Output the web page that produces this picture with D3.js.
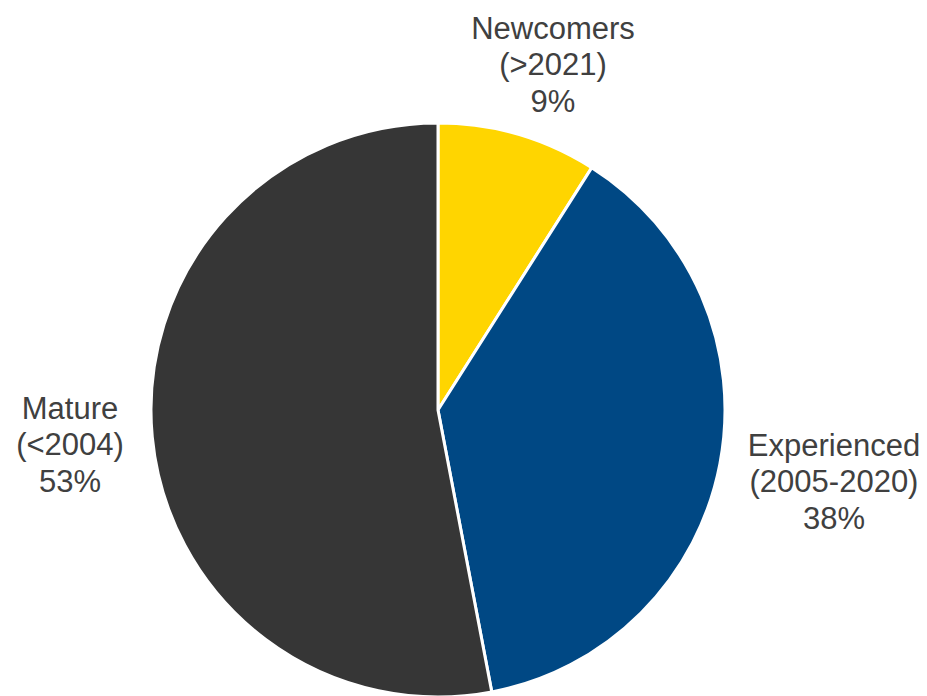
<!DOCTYPE html>
<html>
<head>
<meta charset="utf-8">
<script src="https://cdn.jsdelivr.net/npm/d3@7"></script>
<style>
  html, body { margin: 0; padding: 0; background: #fff; }
  svg { display: block; }
</style>
</head>
<body>
<svg id="chart" width="927" height="696"></svg>
<script>
// Share of members by joining period
const categories = ["Newcomers", "Experienced", "Mature"];
const periods = ["(>2021)", "(2005-2020)", "(<2004)"];
const shares = [9, 38, 53];
const colors = ["#FFD500", "#004884", "#363636"];

const width = 927, height = 696;
const cx = 438, cy = 410, radius = 287;

const svg = d3.select("#chart");
const g = svg.append("g").attr("transform", `translate(${cx},${cy})`);

const pie = d3.pie().sort(null).value(d => d.value);
const arc = d3.arc().innerRadius(0).outerRadius(radius);

const data = categories.map((c, i) => ({ name: c, period: periods[i], value: shares[i], color: colors[i] }));
const arcs = pie(data);

g.selectAll("path")
  .data(arcs)
  .join("path")
  .attr("d", arc)
  .attr("fill", d => d.data.color)
  .attr("stroke", "#fff")
  .attr("stroke-width", 3)
  .attr("stroke-linejoin", "miter");

// Label anchors placed outside each slice
const labelPos = [
  { x: 553, y: 28 },
  { x: 834, y: 445 },
  { x: 70, y: 408 }
];

const lineH = 36.5;
const labels = svg.selectAll("text.lbl")
  .data(arcs)
  .join("text")
  .attr("class", "lbl")
  .attr("text-anchor", "middle")
  .attr("font-family", "'Liberation Sans', Arial, sans-serif")
  .attr("font-size", 31)
  .attr("fill", "#404040");

labels.each(function(d, i) {
  const t = d3.select(this);
  const p = labelPos[i];
  const lines = [d.data.name, d.data.period, d.data.value + "%"];
  lines.forEach((s, j) => {
    t.append("tspan")
      .attr("x", p.x)
      .attr("y", p.y + j * lineH)
      .attr("dy", "0.35em")
      .text(s);
  });
});
</script>
</body>
</html>
